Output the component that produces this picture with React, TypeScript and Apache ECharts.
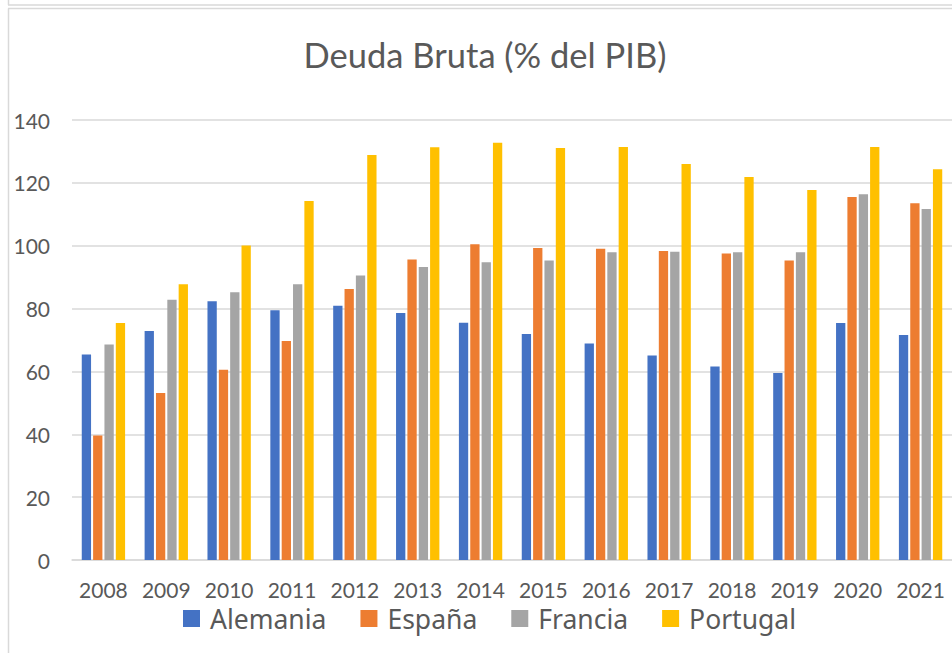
import React, { useEffect, useRef } from "react";
import * as echarts from "echarts";

const years = ["2008", "2009", "2010", "2011", "2012", "2013", "2014", "2015", "2016", "2017", "2018", "2019", "2020", "2021"];
const alemania = [65.4, 72.9, 82.3, 79.5, 80.9, 78.6, 75.5, 71.9, 68.9, 65.1, 61.6, 59.5, 75.4, 71.6];
const espana = [39.6, 53.1, 60.5, 69.7, 86.2, 95.6, 100.5, 99.3, 99.0, 98.3, 97.5, 95.3, 115.5, 113.5];
const francia = [68.6, 82.8, 85.2, 87.7, 90.5, 93.2, 94.7, 95.3, 97.9, 98.1, 97.9, 97.9, 116.4, 111.7];
const portugal = [75.4, 87.7, 100.1, 114.2, 128.9, 131.3, 132.8, 131.1, 131.4, 126.0, 121.9, 117.7, 131.4, 124.3];
const seriesNames = ["Alemania", "España", "Francia", "Portugal"];
const colors = ["#4472C4", "#ED7D31", "#A5A5A5", "#FFC000"];
const title = "Deuda Bruta (% del PIB)";

export default function App() {
  const ref = useRef<HTMLDivElement>(null);
  useEffect(() => {
    if (!ref.current) return;
    const chart = echarts.init(ref.current, null, { renderer: "svg" });
    const values = [alemania, espana, francia, portugal];
    const border = { stroke: "#d9d9d9", lineWidth: 1.5 };
    chart.setOption({
      animation: false,
      backgroundColor: "#ffffff",
      color: colors,
      graphic: [
        { type: "line", shape: { x1: 8, y1: 5, x2: 952, y2: 5 }, style: border, silent: true },
        { type: "line", shape: { x1: 8.5, y1: 0, x2: 8.5, y2: 5 }, style: border, silent: true },
        { type: "line", shape: { x1: 8, y1: 8.5, x2: 952, y2: 8.5 }, style: border, silent: true },
        { type: "line", shape: { x1: 8.5, y1: 8.5, x2: 8.5, y2: 653 }, style: border, silent: true },
        {
          type: "text",
          x: 485,
          y: 54,
          style: {
            text: title,
            fill: "#595959",
            font: "34.5px Lato",
            textAlign: "center",
            textVerticalAlign: "middle",
          },
        },
      ],
      legend: {
        data: seriesNames,
        left: 183,
        top: 605,
        padding: 0,
        itemWidth: 17,
        itemHeight: 17,
        itemGap: 34,
        icon: "rect",
        textStyle: {
          color: "#595959",
          fontSize: 26.5,
          lineHeight: 22,
          fontFamily: "Noto Sans",
          padding: [0, 0, 0, 5],
        },
      },
      grid: { left: 72, right: -3, top: 120, bottom: 93, containLabel: false },
      xAxis: {
        type: "category",
        data: years,
        axisLine: { show: true, lineStyle: { color: "#d9d9d9", width: 1.5 } },
        axisTick: { show: false },
        axisLabel: {
          color: "#595959",
          fontSize: 21,
          lineHeight: 18,
          fontFamily: "Lato",
          margin: 20,
          interval: 0,
        },
      },
      yAxis: {
        type: "value",
        min: 0,
        max: 140,
        interval: 20,
        axisLine: { show: false },
        axisTick: { show: false },
        splitLine: { lineStyle: { color: "#d9d9d9", width: 1.5 } },
        axisLabel: { color: "#595959", fontSize: 21, fontFamily: "Lato", margin: 22 },
      },
      series: seriesNames.map((name, i) => ({
        name,
        type: "bar",
        data: values[i],
        barWidth: 9.3,
        barGap: "22%",
        itemStyle: { color: colors[i] },
      })),
    });
    return () => chart.dispose();
  }, []);
  return (
    <div
      ref={ref}
      style={{ position: "fixed", left: 0, top: 0, width: 952, height: 653, background: "#fff" }}
    />
  );
}
